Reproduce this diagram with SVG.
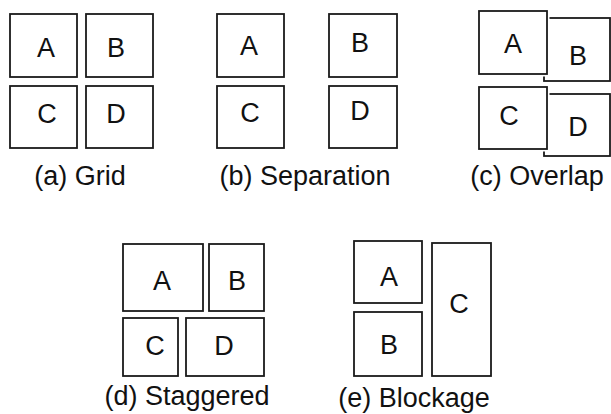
<svg xmlns="http://www.w3.org/2000/svg" width="611" height="414" viewBox="0 0 611 414">
<style>
.box{fill:#fff;stroke:#1a1a1a;stroke-width:1.8}
.halo{fill:#fff;stroke:#fff;stroke-width:5}
.lt{font-family:"Liberation Sans",Arial,sans-serif;font-size:27px;fill:#111;text-anchor:middle}
.cap{font-family:"Liberation Sans",Arial,sans-serif;font-size:27px;fill:#111;text-anchor:middle}
</style>
<rect width="611" height="414" fill="#fff"/>
<!-- (a) Grid -->
<g id="a">
<g id="a-A"><rect class="box" x="10" y="14" width="67" height="63"/><text class="lt" x="46" y="57">A</text></g>
<g id="a-B"><rect class="box" x="86" y="14" width="67" height="63"/><text class="lt" x="116" y="57">B</text></g>
<g id="a-C"><rect class="box" x="10" y="86" width="67" height="62"/><text class="lt" x="47" y="123">C</text></g>
<g id="a-D"><rect class="box" x="86" y="86" width="67" height="62"/><text class="lt" x="116" y="123">D</text></g>
<text class="cap" x="80" y="185">(a) Grid</text>
</g>
<!-- (b) Separation -->
<g id="b">
<g id="b-A"><rect class="box" x="217" y="14" width="67" height="63"/><text class="lt" x="249" y="55">A</text></g>
<g id="b-B"><rect class="box" x="329" y="14" width="68" height="63"/><text class="lt" x="360" y="52">B</text></g>
<g id="b-C"><rect class="box" x="217" y="86" width="67" height="62"/><text class="lt" x="250" y="122">C</text></g>
<g id="b-D"><rect class="box" x="329" y="86" width="68" height="62"/><text class="lt" x="360" y="120">D</text></g>
<text class="cap" x="305" y="185">(b) Separation</text>
</g>
<!-- (c) Overlap -->
<g id="c">
<g id="c-B"><rect class="box" x="544" y="18" width="66" height="63"/><text class="lt" x="578" y="65">B</text></g>
<g id="c-A"><rect class="halo" x="479" y="11" width="68" height="63"/><rect class="box" x="479" y="11" width="68" height="63"/><text class="lt" x="513" y="53">A</text></g>
<g id="c-D"><rect class="box" x="544" y="94" width="66" height="62"/><text class="lt" x="578" y="136">D</text></g>
<g id="c-C"><rect class="halo" x="479" y="87" width="68" height="62"/><rect class="box" x="479" y="87" width="68" height="62"/><text class="lt" x="509" y="125">C</text></g>
<text class="cap" x="537" y="185">(c) Overlap</text>
</g>
<!-- (d) Staggered -->
<g id="d">
<g id="d-A"><rect class="box" x="123" y="244" width="80" height="67"/><text class="lt" x="162" y="290">A</text></g>
<g id="d-B"><rect class="box" x="209" y="244" width="55" height="67"/><text class="lt" x="237" y="290">B</text></g>
<g id="d-C"><rect class="box" x="123" y="318" width="55" height="58"/><text class="lt" x="155" y="355">C</text></g>
<g id="d-D"><rect class="box" x="186" y="318" width="78" height="58"/><text class="lt" x="224" y="355">D</text></g>
<text class="cap" x="187" y="405">(d) Staggered</text>
</g>
<!-- (e) Blockage -->
<g id="e">
<g id="e-A"><rect class="box" x="354" y="241" width="68" height="62"/><text class="lt" x="389" y="286">A</text></g>
<g id="e-B"><rect class="box" x="354" y="312" width="68" height="64"/><text class="lt" x="389" y="354">B</text></g>
<g id="e-C"><rect class="box" x="432" y="243" width="59" height="133"/><text class="lt" x="459" y="313">C</text></g>
<text class="cap" x="414" y="407">(e) Blockage</text>
</g>
<g id="connectors"/>
</svg>
